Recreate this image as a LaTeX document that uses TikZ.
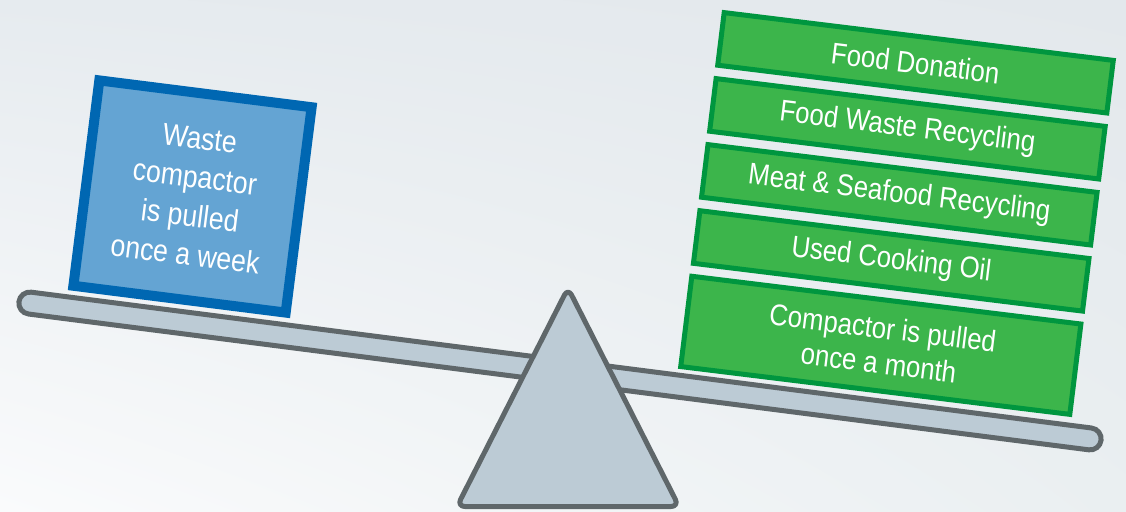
\documentclass[tikz,border=0pt]{standalone}
\usepackage{fontspec}
\usetikzlibrary{shadings}
\newfontfamily\cond{Liberation Sans}[FakeStretch=0.86]
\definecolor{bgtl}{HTML}{E6EBEF}
\definecolor{bgtr}{HTML}{E3E8EC}
\definecolor{bgbl}{HTML}{FAFBFC}
\definecolor{bgbr}{HTML}{EAEFF1}
\definecolor{grfill}{HTML}{3CB54B}
\definecolor{grline}{HTML}{00963F}
\definecolor{blfill}{HTML}{64A4D3}
\definecolor{blline}{HTML}{0067B2}
\definecolor{gyfill}{HTML}{BCCBD5}
\definecolor{gyline}{HTML}{5F676A}
\tikzset{
  greenbox/.style={draw=grline, fill=grfill, line width=5pt, rotate=-7,
    minimum width=392pt, minimum height=53pt, inner sep=0pt,
    text=white, align=center, font=\cond\fontsize{30}{35}\selectfont},
  bluebox/.style={draw=blline, fill=blfill, line width=10pt, rotate=-7.2,
    minimum width=214pt, minimum height=207pt, inner sep=0pt,
    text=white, align=center, font=\cond\fontsize{31}{39}\selectfont},
  beam/.style={draw=gyline, fill=gyfill, line width=5pt, rotate=-7.3,
    minimum width=1091pt, minimum height=22pt, rounded corners=11pt, inner sep=0pt},
  fulcrum/.style={draw=gyline, fill=gyfill, line width=5pt, rounded corners=8pt, line join=round}
}
\begin{document}
\begin{tikzpicture}[x=1pt,y=-1pt]
\useasboundingbox (0,0) rectangle (1126,511);
\shade[upper left=bgtl, upper right=bgtr, lower left=bgbl, lower right=bgbr] (0,0) rectangle (1126,511);
% beam
\node[beam] (beam) at (560,371) {};
% left box
\node[bluebox] (waste) at (192.5,196.5) {Waste\\compactor\\is pulled\\once a week};
% right stack
\node[greenbox] (b1) at (915.5,62.8) {Food Donation};
\node[greenbox] (b2) at (907.4,128.8) {Food Waste Recycling};
\node[greenbox] (b3) at (899.3,194.8) {Meat \& Seafood Recycling};
\node[greenbox] (b4) at (891.2,260.9) {Used Cooking Oil};
\node[greenbox, minimum height=91pt] (b5) at (880.8,345.3) {Compactor is pulled\\once a month};
% fulcrum
\draw[fulcrum] (568,288) -- (679,506.5) -- (457,506.5) -- cycle;
\end{tikzpicture}
\end{document}
